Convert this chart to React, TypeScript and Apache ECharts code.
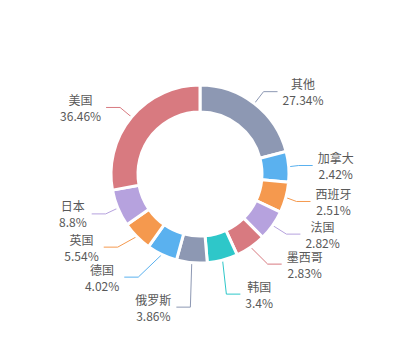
import React, { useEffect, useRef } from "react";
import * as echarts from "echarts";

// Share of total by country (percent), clockwise from 12 o'clock
const countries = ["其他", "加拿大", "西班牙", "法国", "墨西哥", "韩国", "俄罗斯", "德国", "英国", "日本", "美国"];
const shares = [27.34, 2.42, 2.51, 2.82, 2.83, 3.4, 3.86, 4.02, 5.54, 8.8, 36.46];
const palette = ["#8d98b3", "#5ab1ef", "#f5994e", "#b6a2de", "#d87a80", "#2ec7c9"];

export default function App() {
  const ref = useRef<HTMLDivElement>(null);

  useEffect(() => {
    if (!ref.current) return;
    const chart = echarts.init(ref.current, undefined, { renderer: "svg" });
    chart.setOption({
      animation: false,
      color: palette,
      series: [
        {
          type: "pie",
          center: ["50%", 174],
          radius: [62, 89],
          startAngle: 90,
          clockwise: true,
          minAngle: 20,
          avoidLabelOverlap: true,
          itemStyle: { borderColor: "#fff", borderWidth: 3 },
          label: {
            formatter: "{c|{b}}\n{c|{d}%}",
            color: "#595959",
            fontSize: 12,
            fontFamily: "'Noto Sans CJK SC', sans-serif",
            rich: {
              c: {
                align: "center",
                color: "#595959",
                fontSize: 12,
                lineHeight: 16,
                fontFamily: "'Noto Sans CJK SC', sans-serif",
              },
            },
          },
          labelLine: { length: 15, length2: 14, lineStyle: { width: 1 } },
          data: countries.map((name, i) => ({ name, value: shares[i] })),
        },
      ],
    });
    return () => chart.dispose();
  }, []);

  return <div ref={ref} style={{ position: "absolute", left: 0, top: 0, width: 400, height: 350 }} />;
}
